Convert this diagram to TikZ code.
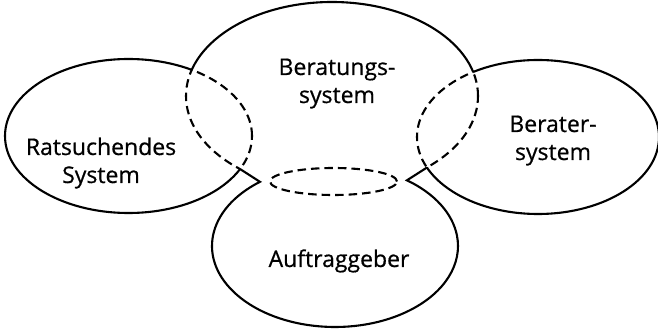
\documentclass[tikz,border=0pt]{standalone}
\usepackage{fontspec}
\setmainfont{Open Sans}[FakeBold=0.6]
\usetikzlibrary{calc}
\begin{document}
\begin{tikzpicture}[x=1pt,y=1pt,line width=2.1pt,
  solidline/.style={draw=black},
  hiddenline/.style={draw=black,dash pattern=on 8.5pt off 5pt},
  label/.style={font=\fontsize{23}{28}\selectfont,align=center,anchor=base,inner sep=0pt}]
\useasboundingbox (0,0) rectangle (658,329);
% the four systems as ellipses
\def\ellBer{(332,233) ellipse [x radius=146, y radius=94]}
\def\ellRat{(128.5,193) ellipse [x radius=123.5, y radius=77]}
\def\ellBtr{(538,192) ellipse [x radius=121, y radius=77]}
\def\bigbox{(-20,-20) rectangle (680,350)}

% overlaps: parts of one ellipse lying inside another are dashed
\begin{scope}
  \clip \ellRat;
  \path[hiddenline] \ellBer;
\end{scope}
\begin{scope}
  \clip \ellBtr;
  \path[hiddenline] \ellBer;
\end{scope}
\begin{scope}
  \clip \ellBer;
  \path[hiddenline] \ellRat;
  \path[hiddenline] \ellBtr;
\end{scope}
% overlap of Beratungssystem and Auftraggeber
\path[hiddenline] (333.5,147.5) ellipse [x radius=63.5, y radius=13.5];

% visible outlines
\begin{scope}[even odd rule]
  \clip (-20,200) rectangle (680,350);
  \clip \bigbox \ellRat \ellBtr;
  \path[solidline] \ellBer;
\end{scope}
\begin{scope}[even odd rule]
  \clip \bigbox \ellBer;
  \path[solidline] \ellRat;
  \path[solidline] \ellBtr;
\end{scope}

% Auftraggeber outline with the two short joins
\coordinate (tl) at (240,160);
\coordinate (tr) at (427,161.5);
\coordinate (al) at ($(335,83)+(127.6:123 and 81)$);
\coordinate (ar) at ($(335,83)+(54.2:123 and 81)$);
\draw[solidline] (tl) -- (al) arc[start angle=127.6, end angle=414.2, x radius=123, y radius=81] -- (tr);

% labels (base anchor sits on the last line)
\node[label] (ber) at (337,226) {Beratungs-\\system};
\node[label] (rat) at (101,146) {Ratsuchendes\\System};
\node[label] (btr) at (553,169) {Berater-\\system};
\node[label] (auf) at (339,62) {Auftraggeber};
\end{tikzpicture}
\end{document}
